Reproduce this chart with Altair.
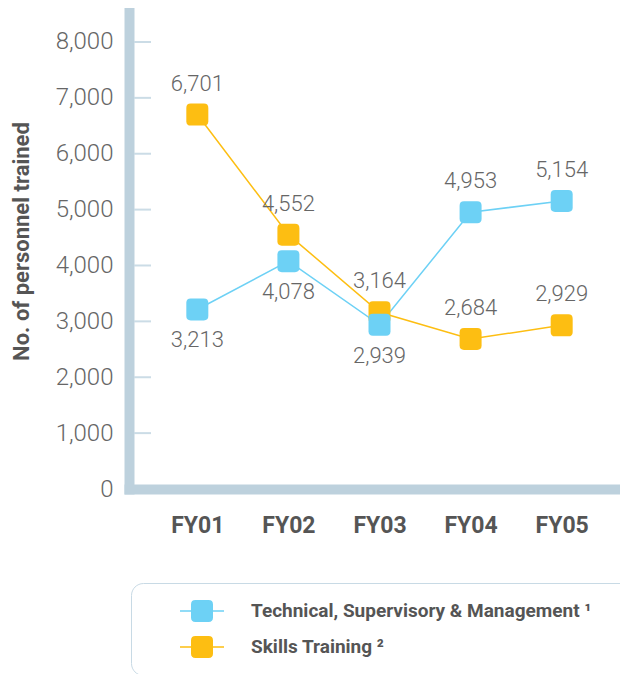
import altair as alt
import pandas as pd

# ---- data ----
YEARS = ["FY01", "FY02", "FY03", "FY04", "FY05"]
TECH = [3213, 4078, 2939, 4953, 5154]
SKILLS = [6701, 4552, 3164, 2684, 2929]
SERIES = ["Technical, Supervisory & Management \u00b9", "Skills Training \u00b2"]
Y_TICKS = [0, 1000, 2000, 3000, 4000, 5000, 6000, 7000, 8000]
Y_MAX = 8608

BLUE = "#6dd1f5"
ORANGE = "#fdbe12"
AXIS_COL = "#bdd1dd"
TICK_COL = "#cbdce6"
FONT = "Roboto"

rows = []
for yr, s in zip(YEARS, SKILLS):
    rows.append({"year": yr, "series": SERIES[1], "value": s, "pos": "above"})
for yr, t, s in zip(YEARS, TECH, SKILLS):
    rows.append({"year": yr, "series": SERIES[0], "value": t,
                 "pos": "below" if t < s else "above"})
df = pd.DataFrame(rows)
ticks_df = pd.DataFrame({"value": [v for v in Y_TICKS if v > 0]})

SQUARE = ("M-0.6,-1H0.6Q1,-1 1,-0.6V0.6Q1,1 0.6,1H-0.6Q-1,1 -1,0.6V-0.6"
          "Q-1,-1 -0.6,-1Z")
LEGEND_SYMBOL = SQUARE + "M-2,-0.07H-0.95V0.07H-2ZM0.95,-0.07H2V0.07H0.95Z"

x_enc = alt.X(
    "year:N", sort=YEARS,
    scale=alt.Scale(type="point", padding=0.75, range=[0, 501]),
    axis=alt.Axis(title=None, labelAngle=0, domainColor=AXIS_COL, domainWidth=10,
                  domainCap="square", ticks=False, tickSize=0, labelPadding=25,
                  labelFont=FONT, labelFontSize=23, labelFontWeight="bold",
                  labelColor="#555555", grid=False),
)
y_enc = alt.Y(
    "value:Q",
    scale=alt.Scale(domain=[0, Y_MAX], nice=False, zero=True),
    axis=alt.Axis(values=Y_TICKS, format=",d", domainColor=AXIS_COL, domainWidth=10,
                  domainCap="square", ticks=False, tickSize=0, labelPadding=16,
                  labelFont=FONT, labelFontSize=24, labelFontWeight=300,
                  labelColor="#666666", grid=False,
                  title="No. of personnel trained", titleFont=FONT, titleFontSize=22,
                  titleFontWeight="bold", titleColor="#555555", titleAngle=270,
                  titleX=-108, titleY=233, titleAlign="center", titleBaseline="middle"),
)
color_scale = alt.Scale(domain=SERIES, range=[BLUE, ORANGE])

legend = alt.Legend(
    title=None, orient="none", legendX=2, legendY=575,
    symbolType=LEGEND_SYMBOL, symbolSize=484, symbolStrokeWidth=0, symbolOpacity=1,
    symbolOffset=43, labelOffset=38,
    labelFont=FONT, labelFontSize=19, labelFontWeight="bold", labelColor="#555555",
    labelLimit=700, padding=17, rowPadding=14,
    strokeColor="#c8dae5", cornerRadius=12,
    labelExpr="datum.label + '" + "\u00a0" * 6 + "\u200b'",
)
color_enc = alt.Color("series:N", scale=color_scale, legend=legend)

base = alt.Chart(df)

tick_marks = alt.Chart(ticks_df).mark_rule(color=TICK_COL, strokeWidth=2).encode(
    y=y_enc, x=alt.value(5), x2=alt.value(22)
)

lines = base.mark_line(strokeWidth=1.5).encode(x=x_enc, y=y_enc, color=color_enc)

points = base.mark_point(shape=SQUARE, size=484, filled=True, opacity=1,
                         strokeWidth=0).encode(x=x_enc, y=y_enc, color=color_enc)

text_kw = dict(font=FONT, fontSize=22, fontWeight=300, color="#666666")
labels_above = base.transform_filter(alt.datum.pos == "above").mark_text(
    dy=-31, **text_kw).encode(x=x_enc, y=y_enc, text=alt.Text("value:Q", format=",d"))
labels_below = base.transform_filter(alt.datum.pos == "below").mark_text(
    dy=31, **text_kw).encode(x=x_enc, y=y_enc, text=alt.Text("value:Q", format=",d"))

chart = alt.layer(tick_marks, lines, points, labels_above, labels_below).properties(
    width=491, height=481,
    autosize=alt.AutoSizeParams(type="none"),
    padding={"left": 121, "top": 0, "right": 0, "bottom": 185},
    background="white",
).configure_view(stroke=None)

chart.save("out.html", embed_options={"renderer": "svg", "actions": False})
